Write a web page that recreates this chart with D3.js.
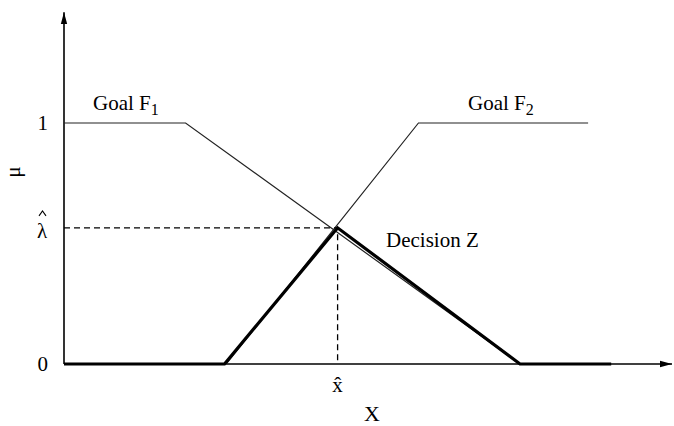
<!DOCTYPE html>
<html>
<head>
<meta charset="utf-8">
<script src="https://cdn.jsdelivr.net/npm/d3@7"></script>
<style>
  body { margin: 0; background: #fff; }
  text { font-family: "Liberation Serif", "DejaVu Serif", serif; fill: #000; }
</style>
</head>
<body>
<div id="chart"></div>
<script>
// membership functions, x in arbitrary units 0..100, mu in 0..1
const goalF1 = [[0, 1], [20, 1], [75, 0]];
const goalF2 = [[26.7, 0], [58.3, 1], [86.2, 1]];
const decisionZ = [[0, 0], [26.4, 0], [45, 0.565], [75, 0], [90, 0]];
const xHat = 45;
const lambdaHat = 0.565;
const yTicks = [0, 1];

const width = 674, height = 426;

const x = d3.scaleLinear().domain([0, 100]).range([64, 672]);
const y = d3.scaleLinear().domain([0, 1]).range([364, 123]);

const svg = d3.select('#chart')
  .append('svg')
  .attr('width', width)
  .attr('height', height);

const defs = svg.append('defs');
defs.append('marker')
  .attr('id', 'arrow')
  .attr('viewBox', '0 0 12 10')
  .attr('refX', 12)
  .attr('refY', 5)
  .attr('markerWidth', 12)
  .attr('markerHeight', 10)
  .attr('markerUnits', 'userSpaceOnUse')
  .attr('orient', 'auto')
  .append('path')
  .attr('d', 'M0,1.8 L12,5 L0,8.2 Z')
  .attr('fill', '#000');

const line = d3.line().x(d => x(d[0])).y(d => y(d[1]));

// axes
svg.append('line')
  .attr('x1', x(0)).attr('y1', y(0))
  .attr('x2', x(0)).attr('y2', y(1.46))
  .attr('stroke', '#000').attr('stroke-width', 1.6)
  .attr('marker-end', 'url(#arrow)');

svg.append('line')
  .attr('x1', x(0)).attr('y1', y(0))
  .attr('x2', x(100)).attr('y2', y(0))
  .attr('stroke', '#000').attr('stroke-width', 1.6)
  .attr('marker-end', 'url(#arrow)');

// goal curves
[goalF1, goalF2].forEach(g => {
  svg.append('path')
    .attr('d', line(g))
    .attr('fill', 'none')
    .attr('stroke', '#222')
    .attr('stroke-width', 1.2);
});

// dashed guides to the optimum
svg.append('path')
  .attr('d', line([[0, lambdaHat], [xHat, lambdaHat], [xHat, 0]]))
  .attr('fill', 'none')
  .attr('stroke', '#000')
  .attr('stroke-width', 1.3)
  .attr('stroke-dasharray', '6,4');

// decision
svg.append('path')
  .attr('d', line(decisionZ))
  .attr('fill', 'none')
  .attr('stroke', '#000')
  .attr('stroke-width', 3.2)
  .attr('stroke-linejoin', 'miter');

// tick labels
svg.selectAll('.ytick')
  .data(yTicks)
  .enter()
  .append('text')
  .attr('class', 'ytick')
  .attr('x', 48)
  .attr('y', d => y(d) + 7)
  .attr('text-anchor', 'end')
  .style('font-size', '21px')
  .text(d => d);

// lambda with a drawn hat (combining mark sits badly on the greek glyph)
const ly = y(lambdaHat);
svg.append('text')
  .attr('x', 42).attr('y', ly + 10)
  .attr('text-anchor', 'middle')
  .style('font-size', '21px')
  .text('\u03BB');
svg.append('path')
  .attr('d', `M${39},${ly - 12} L${42.5},${ly - 17} L${46},${ly - 12}`)
  .attr('fill', 'none')
  .attr('stroke', '#000')
  .attr('stroke-width', 1.1);

svg.append('text')
  .attr('x', x(xHat)).attr('y', y(0) + 28)
  .attr('text-anchor', 'middle')
  .style('font-size', '21px')
  .text('x\u0302');

// axis titles
svg.append('text')
  .attr('x', 372).attr('y', 421)
  .attr('text-anchor', 'middle')
  .style('font-size', '22px')
  .text('X');

svg.append('text')
  .attr('transform', 'translate(20,172) rotate(-90)')
  .attr('text-anchor', 'middle')
  .style('font-size', '21px')
  .text('\u03BC');

// curve labels
const goal1 = svg.append('text').attr('x', 93).attr('y', 110).style('font-size', '21px');
goal1.append('tspan').text('Goal F');
goal1.append('tspan').attr('dy', 5).style('font-size', '16px').text('1');

const goal2 = svg.append('text').attr('x', 468).attr('y', 110).style('font-size', '21px');
goal2.append('tspan').text('Goal F');
goal2.append('tspan').attr('dy', 5).style('font-size', '16px').text('2');

svg.append('text')
  .attr('x', 386).attr('y', 247)
  .style('font-size', '21px')
  .text('Decision Z');
</script>
</body>
</html>
